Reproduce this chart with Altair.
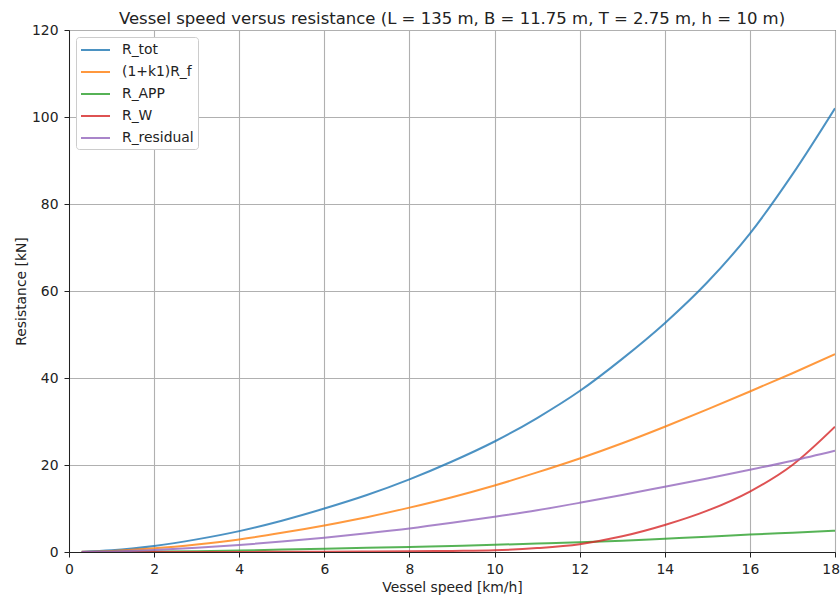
import altair as alt
import pandas as pd

speed = [0.3, 1, 2, 3, 4, 5, 6, 7, 8, 9, 10, 11, 12, 13, 14, 15, 16, 17, 18]
r_tot = [0.05, 0.4, 1.4, 2.9, 4.8, 7.2, 10.0, 13.1, 16.7, 20.8, 25.4, 30.8, 37.0, 44.4, 52.6, 62.0, 73.2, 86.8, 102.0]
r_f = [0.03, 0.25, 0.85, 1.75, 2.9, 4.4, 6.1, 8.0, 10.2, 12.6, 15.3, 18.3, 21.5, 25.0, 28.8, 32.8, 36.9, 41.1, 45.5]
r_app = [0.0, 0.03, 0.1, 0.2, 0.35, 0.55, 0.75, 0.95, 1.15, 1.4, 1.65, 1.95, 2.25, 2.6, 3.05, 3.5, 4.0, 4.45, 4.9]
r_w = [0.0, 0.0, 0.0, 0.01, 0.02, 0.04, 0.07, 0.1, 0.15, 0.25, 0.4, 0.9, 1.8, 3.6, 6.2, 9.5, 13.9, 20.0, 28.8]
r_res = [0.01, 0.12, 0.45, 0.95, 1.6, 2.4, 3.3, 4.3, 5.4, 6.7, 8.1, 9.6, 11.3, 13.1, 15.0, 16.9, 18.9, 21.0, 23.3]

names = ["R_tot", "(1+k1)R_f", "R_APP", "R_W", "R_residual"]
colors = ["#1f77b4", "#ff7f0e", "#2ca02c", "#d62728", "#9467bd"]
series = [r_tot, r_f, r_app, r_w, r_res]

rows = []
for i, (n, vals) in enumerate(zip(names, series)):
    for s, v in zip(speed, vals):
        rows.append({"speed": s, "res": v, "series": n, "ord": i})
df = pd.DataFrame(rows)

FONT = "DejaVu Sans"
FS = 13.9

chart = alt.Chart(df).mark_line(strokeWidth=2, opacity=0.8, interpolate="monotone", clip=True).encode(
    x=alt.X("speed:Q", title="Vessel speed [km/h]",
            scale=alt.Scale(domain=[0, 18], nice=False, zero=False),
            axis=alt.Axis(values=list(range(0, 19, 2)), format="d",
                          labelFlush=True, labelFlushOffset=4.5)),
    y=alt.Y("res:Q", title="Resistance [kN]",
            scale=alt.Scale(domain=[0, 120], nice=False),
            axis=alt.Axis(values=list(range(0, 121, 20)), format="d", labelFlush=False)),
    color=alt.Color("series:N", sort=names,
                    scale=alt.Scale(domain=names, range=colors),
                    legend=alt.Legend(title=None, orient="none", legendX=7, legendY=7,
                                      symbolType="M-1,0L2.625,0", symbolSize=256, symbolStrokeWidth=2,
                                      symbolOpacity=0.8, symbolFillColor="transparent",
                                      labelFontSize=FS, labelFont=FONT, labelColor="#222",
                                      labelOffset=24, rowPadding=6, padding=4,
                                      fillColor="white", strokeColor="#cccccc", cornerRadius=3)),
    order=alt.Order("ord:Q"),
).properties(
    width=766, height=522,
    title=alt.TitleParams("Vessel speed versus resistance (L = 135 m, B = 11.75 m, T = 2.75 m, h = 10 m)",
                          font=FONT, fontSize=16.5, fontWeight="normal", color="#222",
                          anchor="middle", offset=-4),
    padding={"left": 69, "top": 30, "right": 5, "bottom": 47},
    autosize=alt.AutoSizeParams(type="none"),
).configure_view(
    stroke="#222", strokeWidth=1
).configure_axis(
    grid=True, gridColor="#b0b0b0", gridWidth=1.1,
    domainColor="#222", domainWidth=1,
    tickColor="#222", tickSize=5, tickWidth=1,
    labelFont=FONT, labelFontSize=FS, labelColor="#222",
    titleFont=FONT, titleFontSize=FS, titleFontWeight="normal", titleColor="#222",
).configure_axisX(
    labelPadding=5, titlePadding=5
).configure_axisY(
    labelPadding=6, titlePadding=3
)

chart.save("out.html", embed_options={"renderer": "svg", "actions": False})
